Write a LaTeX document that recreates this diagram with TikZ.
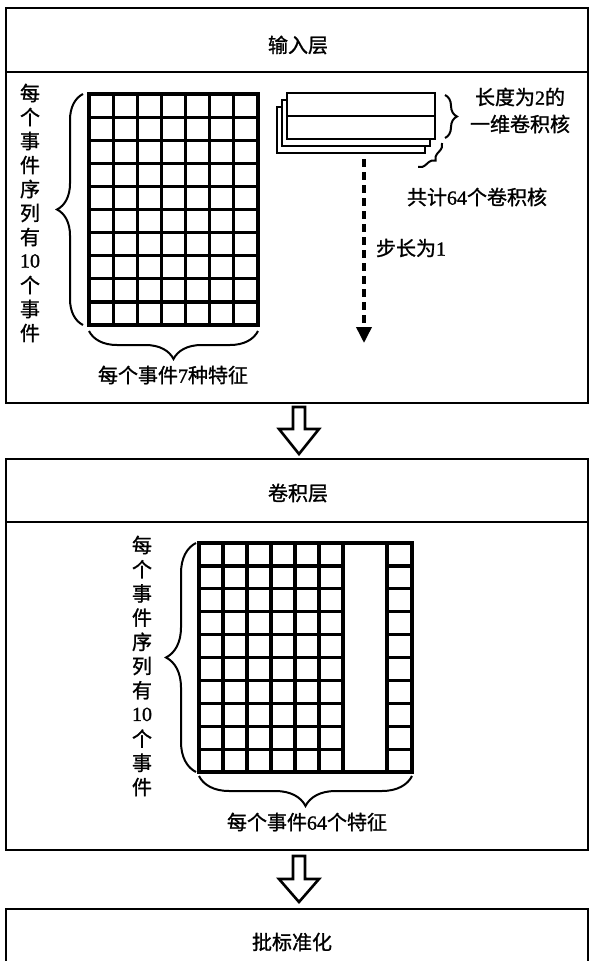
\documentclass[tikz,border=0pt]{standalone}
\usepackage{fontspec}
\setmainfont{Liberation Serif}
\newfontfamily\cjkf[FakeBold=1.2]{Noto Sans CJK SC}
\newfontfamily\serf[FakeBold=1.2]{Liberation Serif}
\newcommand\dg[1]{{\serf #1}}
\usetikzlibrary{decorations.pathreplacing,arrows.meta}
\begin{document}
\begin{tikzpicture}[x=1pt,y=-1pt,
  box/.style={draw, line width=2.8pt, minimum width=582pt, inner sep=0pt, outer sep=0pt, anchor=north west},
  lbl/.style={font=\cjkf\fontsize{20}{24}\selectfont, inner sep=0pt},
  gl/.style={line width=3.2pt},
  brc/.style={decorate, decoration={brace, amplitude=#1}, line width=2pt},
  kbox/.style={draw, fill=white, line width=2.8pt, minimum width=148pt, minimum height=46pt, inner sep=0pt, outer sep=0pt, anchor=north west},
  blockarrow/.style={draw, line width=2.6pt, fill=white, line join=miter},
  steparrow/.style={line width=3.6pt, dash pattern=on 8pt off 5pt, -{Triangle[width=15pt,length=16pt]}}
]
\useasboundingbox (0,0) rectangle (590,961);
\clip (0,0) rectangle (590,961);

% boxes
\node[box, minimum height=64pt] (t1) at (6,8) {};
\node[box, minimum height=331pt] (b1) at (6,72) {};
\node[box, minimum height=63pt] (t2) at (6,459) {};
\node[box, minimum height=328pt] (b2) at (6,522) {};
\node[box, minimum height=80pt] (b3) at (6,909) {};

% titles
\node[lbl] (ttl1) at (298,45) {输入层};
\node[lbl] (ttl2) at (298,493) {卷积层};
\node[lbl] (ttl3) at (292,942) {批标准化};

% hollow arrows between boxes
\draw[blockarrow] (293,407) -- (293,429) -- (279,429) -- (299,454) -- (319,429) -- (305,429) -- (305,407) -- cycle;
\draw[blockarrow] (293,856) -- (293,879) -- (279,879) -- (299,902) -- (319,879) -- (305,879) -- (305,856) -- cycle;

% ---- input grid 7 x 10
\coordinate (g1nw) at (89,94);
\coordinate (g1se) at (258,325);
\foreach \i in {1,...,6} \draw[gl] ({89+\i*169/7},94) -- ({89+\i*169/7},325);
\foreach \j in {1,...,9} \draw[gl] (89,{94+\j*23.1}) -- (258,{94+\j*23.1});
\draw[gl] (g1nw) rectangle (g1se);

\draw[brc=26pt] (83,325) -- (83,94);
\draw[brc=28pt] (258,331) -- (89,331);
\foreach \t [count=\i] in {每,个,事,件,序,列,有,\dg{10},个,事,件}
  \node[lbl] (va\i) at (30,{93+24*(\i-1)}) {\t};
\node[lbl] (feat1) at (173,375) {每个事件\dg{7}种特征};

% ---- kernels
\node[kbox] (k3) at (277,107) {};
\node[kbox] (k2) at (282,100) {};
\node[kbox] (k1) at (287,93) {};
\draw[line width=2.8pt] (k1.west) -- (k1.east);
\draw[brc=12pt] (445,95) -- (445,138);
\draw[brc=8pt] (442,143) -- (418,167);
\node[lbl] (klen1) at (520,97) {长度为\dg{2}的};
\node[lbl] (klen2) at (520,124) {一维卷积核};
\node[lbl] (kcnt) at (477,197) {共计\dg{64}个卷积核};
\coordinate (s0) at (364,159);
\coordinate (s1) at (364,343);
\draw[steparrow] (s0) -- (s1);
\node[lbl] (stride) at (411,248) {步长为\dg{1}};

% ---- convolution output grid
\coordinate (g2nw) at (199,543);
\coordinate (g2se) at (412,772);
\foreach \i in {1,...,6} \draw[gl] ({199+\i*24},543) -- ({199+\i*24},772);
\draw[gl] (387,543) -- (387,772);
\foreach \j in {1,...,9} {
  \draw[gl] (199,{543+\j*22.9}) -- (343,{543+\j*22.9});
  \draw[gl] (387,{543+\j*22.9}) -- (412,{543+\j*22.9});
}
\draw[gl] (g2nw) rectangle (g2se);
\draw[brc=30pt] (196,772) -- (196,543);
\draw[brc=30pt] (412,776) -- (199,776);
\foreach \t [count=\i] in {每,个,事,件,序,列,有,\dg{10},个,事,件}
  \node[lbl] (vb\i) at (142,{545+24.2*(\i-1)}) {\t};
\node[lbl] (feat2) at (307,822) {每个事件\dg{64}个特征};
\end{tikzpicture}
\end{document}
